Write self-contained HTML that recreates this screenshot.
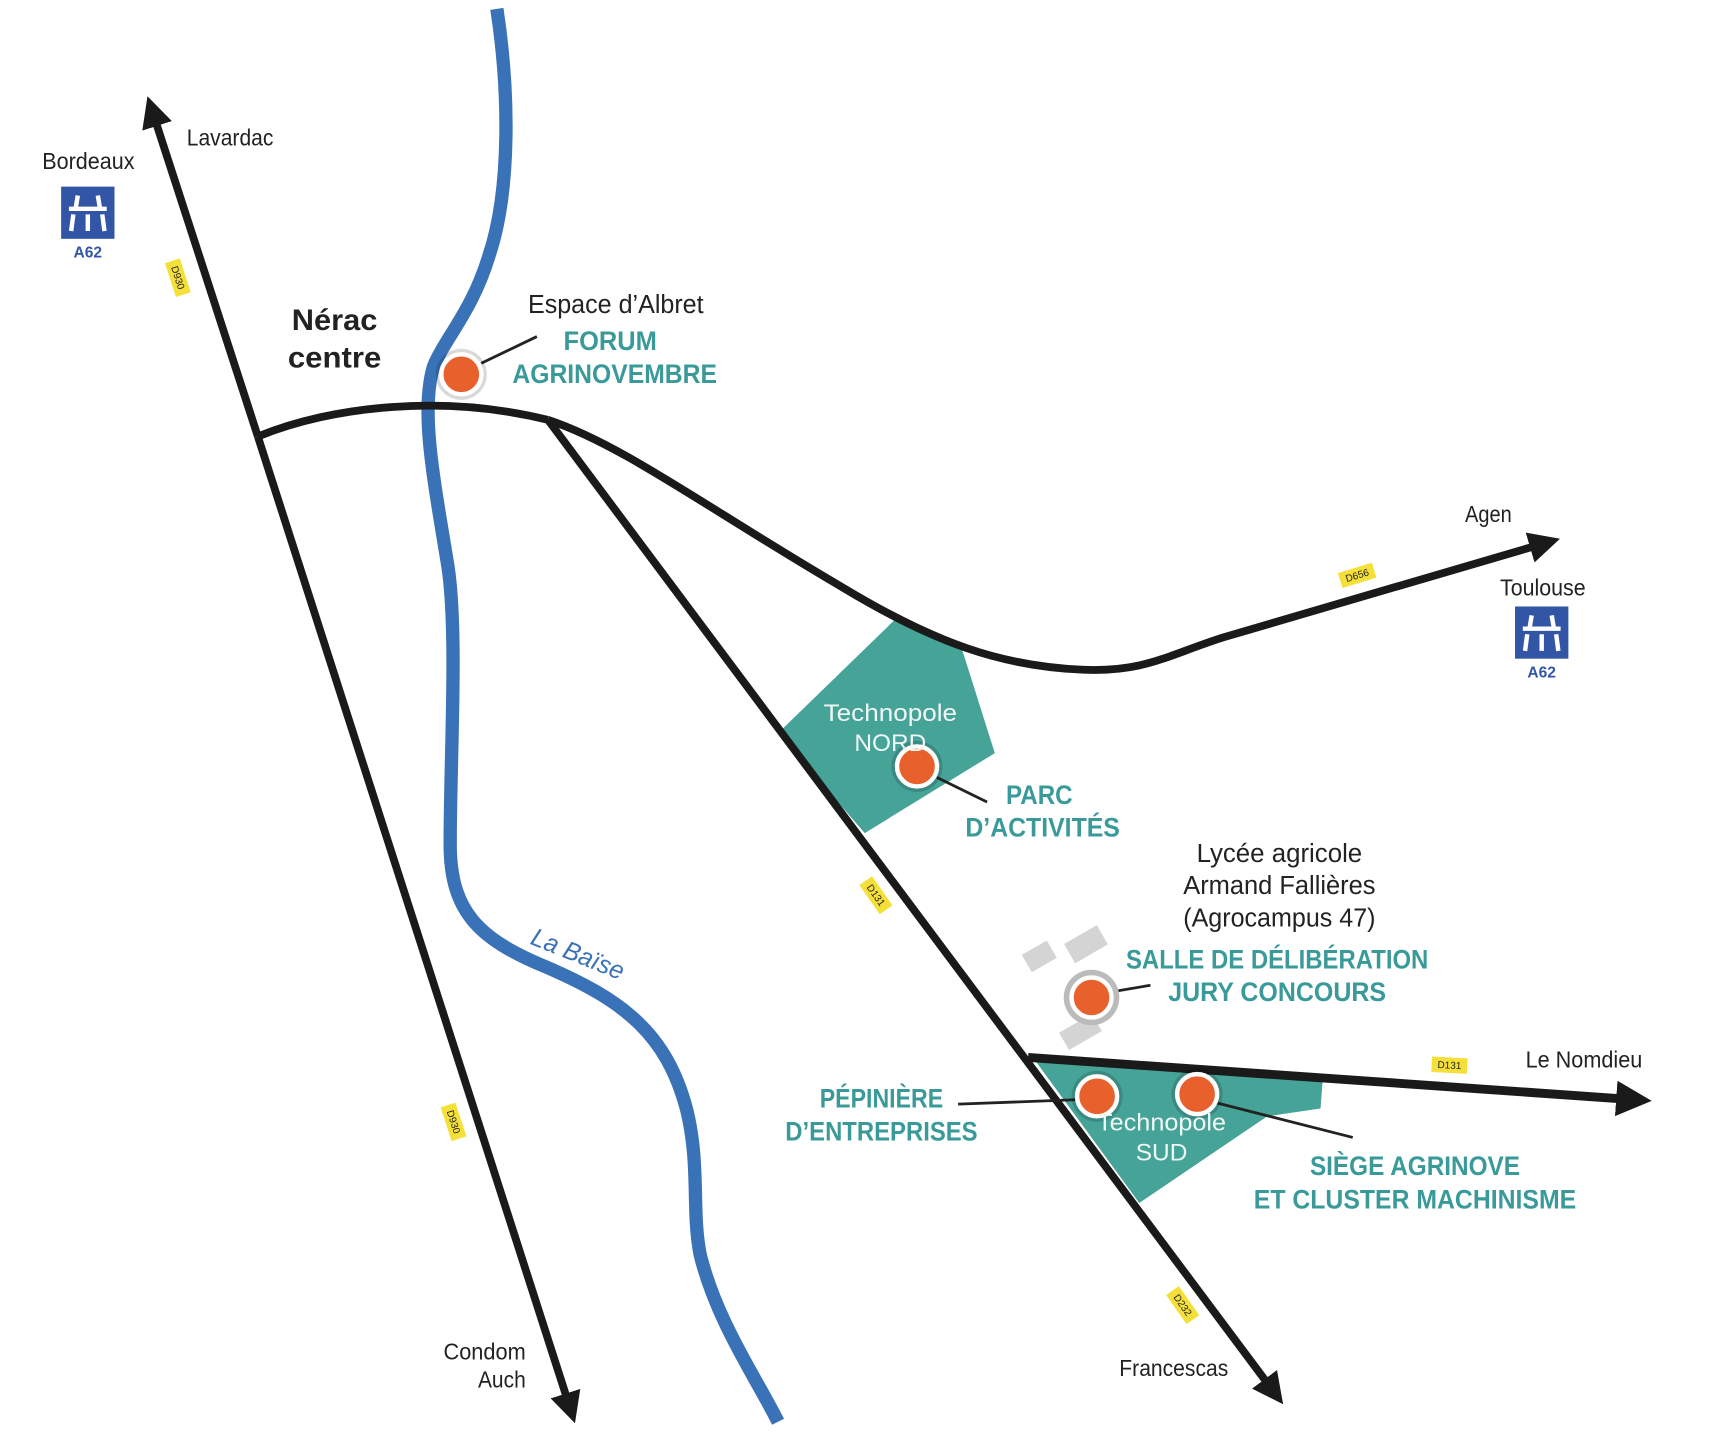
<!DOCTYPE html>
<html><head><meta charset="utf-8"><style>
html,body{margin:0;padding:0;background:#fff;}
svg{display:block}
text{font-family:"Liberation Sans",sans-serif;}
.k{fill:#222;font-size:21px}
.t{fill:#3a9a9a;font-size:24px;font-weight:bold}
.y{fill:#222;font-size:9px}
</style></head><body>
<svg width="1734" height="1444" viewBox="0 0 1560 1300" preserveAspectRatio="none" xmlns="http://www.w3.org/2000/svg">
<defs>
<marker id="ar" markerWidth="4" markerHeight="4" refX="2" refY="2" orient="auto" markerUnits="strokeWidth">
<path d="M0,0 L4,2 L0,4 z" fill="#1a1a1a"/></marker>
</defs>
<polygon points="700,660 805,558 865,583 895,678 778,750" fill="#46a398"/>
<polygon points="930,953 1190,972 1188,998 1140,1005 1025,1083" fill="#46a398"/>
<g fill="#d4d4d4">
<rect x="922" y="852" width="26" height="18" transform="rotate(-30 935 861)"/>
<rect x="960" y="840" width="34" height="20" transform="rotate(-30 977 850)"/>
<rect x="955" y="920" width="34" height="18" transform="rotate(-30 972 929)"/>
</g>
<path d="M447,8 C458,80 460,170 440,230 C425,280 400,305 390,330 C378,370 390,430 403,510 C412,570 405,680 405,760 C405,820 430,845 490,870 C560,900 600,930 618,1000 C630,1050 622,1090 630,1130 C645,1190 680,1240 700,1280" fill="none" stroke="#3a72b8" stroke-width="12"/>
<g fill="none" stroke="#1a1a1a" stroke-width="7">
<line x1="232" y1="393" x2="137" y2="100" marker-end="url(#ar)"/>
<line x1="232" y1="393" x2="513" y2="1268" marker-end="url(#ar)"/>
<path d="M232,393 C300,365 400,355 493,378"/>
<path d="M493,378 C560,400 640,460 760,530 C840,578 900,600 975,603 C1030,605 1050,590 1100,574 L1390,489" marker-end="url(#ar)"/>
<line x1="493" y1="378" x2="1146" y2="1253" marker-end="url(#ar)"/>
<path d="M925,952 L1470,990" stroke-width="8" marker-end="url(#ar)"/>
</g>
<g stroke="#222" stroke-width="2.5">
<line x1="433" y1="327" x2="483" y2="303"/>
<line x1="843" y1="700" x2="888" y2="722"/>
<line x1="1000" y1="893" x2="1035" y2="887"/>
<line x1="970" y1="990" x2="862" y2="994"/>
<line x1="1095" y1="993" x2="1217" y2="1024"/>
</g>
<g>
<circle cx="415" cy="337" r="23" fill="#000" opacity=".15"/>
<circle cx="825" cy="690" r="23" fill="#000" opacity=".15"/>
<circle cx="982" cy="898" r="25" fill="#bbb"/>
<circle cx="987" cy="987" r="23" fill="#000" opacity=".15"/>
<circle cx="1077" cy="985" r="23" fill="#000" opacity=".15"/>
</g>
<g fill="#e8602c" stroke="#fff" stroke-width="4">
<circle cx="415" cy="337" r="18"/>
<circle cx="825" cy="690" r="18"/>
<circle cx="982" cy="898" r="18"/>
<circle cx="987" cy="987" r="18"/>
<circle cx="1077" cy="985" r="18"/>
</g>
<g>
<rect x="55" y="168" width="48" height="47" fill="#3355a5"/>
<path d="M62,188 H96 M66,193 L64,208 M79,193 V208 M92,193 L94,208 M70,176 L68,188 M88,176 L90,188" stroke="#fff" stroke-width="4" fill="none"/>
<text x="79" y="232" text-anchor="middle" style="font-size:14px;font-weight:bold;fill:#3355a5">A62</text>
<rect x="1363" y="546" width="48" height="47" fill="#3355a5"/>
<path d="M1370,566 H1404 M1374,571 L1372,586 M1387,571 V586 M1400,571 L1402,586 M1378,554 L1376,566 M1396,554 L1398,566" stroke="#fff" stroke-width="4" fill="none"/>
<text x="1387" y="610" text-anchor="middle" style="font-size:14px;font-weight:bold;fill:#3355a5">A62</text>
</g>
<g>
<g transform="translate(160,250) rotate(72)"><rect x="-16" y="-7" width="32" height="14" fill="#f5e03a"/><text class="y" x="0" y="3" text-anchor="middle">D930</text></g>
<g transform="translate(408,1010) rotate(72)"><rect x="-16" y="-7" width="32" height="14" fill="#f5e03a"/><text class="y" x="0" y="3" text-anchor="middle">D930</text></g>
<g transform="translate(788,806) rotate(55)"><rect x="-16" y="-7" width="32" height="14" fill="#f5e03a"/><text class="y" x="0" y="3" text-anchor="middle">D131</text></g>
<g transform="translate(1064,1175) rotate(55)"><rect x="-16" y="-7" width="32" height="14" fill="#f5e03a"/><text class="y" x="0" y="3" text-anchor="middle">D232</text></g>
<g transform="translate(1221,518) rotate(-17)"><rect x="-16" y="-7" width="32" height="14" fill="#f5e03a"/><text class="y" x="0" y="3" text-anchor="middle">D656</text></g>
<g transform="translate(1304,959) rotate(3)"><rect x="-16" y="-7" width="32" height="14" fill="#f5e03a"/><text class="y" x="0" y="3" text-anchor="middle">D131</text></g>
</g>
<g lengthAdjust="spacingAndGlyphs">
<text class="k" x="38" y="152" textLength="83" lengthAdjust="spacingAndGlyphs">Bordeaux</text>
<text class="k" x="168" y="131" textLength="78" lengthAdjust="spacingAndGlyphs">Lavardac</text>
<text x="301" y="297" text-anchor="middle" textLength="77" lengthAdjust="spacingAndGlyphs" style="font-size:27px;font-weight:bold;fill:#222">Nérac</text>
<text x="301" y="331" text-anchor="middle" textLength="84" lengthAdjust="spacingAndGlyphs" style="font-size:27px;font-weight:bold;fill:#222">centre</text>
<text class="k" x="554" y="282" text-anchor="middle" textLength="158" lengthAdjust="spacingAndGlyphs" style="font-size:23px">Espace d’Albret</text>
<text class="t" x="549" y="315" text-anchor="middle" textLength="84" lengthAdjust="spacingAndGlyphs">FORUM</text>
<text class="t" x="553" y="345" text-anchor="middle" textLength="184" lengthAdjust="spacingAndGlyphs">AGRINOVEMBRE</text>
<text class="k" x="1339" y="470" text-anchor="middle" textLength="42" lengthAdjust="spacingAndGlyphs">Agen</text>
<text class="k" x="1388" y="536" text-anchor="middle" textLength="77" lengthAdjust="spacingAndGlyphs">Toulouse</text>
<text x="801" y="649" text-anchor="middle" textLength="120" lengthAdjust="spacingAndGlyphs" style="font-size:22px;fill:#f0f8f6">Technopole</text>
<text x="801" y="676" text-anchor="middle" style="font-size:22px;fill:#f0f8f6">NORD</text>
<text class="t" x="935" y="724" text-anchor="middle" textLength="60" lengthAdjust="spacingAndGlyphs">PARC</text>
<text class="t" x="938" y="753" text-anchor="middle" textLength="139" lengthAdjust="spacingAndGlyphs">D’ACTIVITÉS</text>
<text class="k" x="1151" y="776" text-anchor="middle" textLength="149" lengthAdjust="spacingAndGlyphs" style="font-size:23px">Lycée agricole</text>
<text class="k" x="1151" y="805" text-anchor="middle" textLength="173" lengthAdjust="spacingAndGlyphs" style="font-size:23px">Armand Fallières</text>
<text class="k" x="1151" y="834" text-anchor="middle" textLength="173" lengthAdjust="spacingAndGlyphs" style="font-size:23px">(Agrocampus 47)</text>
<text class="t" x="1149" y="872" text-anchor="middle" textLength="272" lengthAdjust="spacingAndGlyphs">SALLE DE DÉLIBÉRATION</text>
<text class="t" x="1149" y="901" text-anchor="middle" textLength="196" lengthAdjust="spacingAndGlyphs">JURY CONCOURS</text>
<text class="k" x="1425" y="961" text-anchor="middle" textLength="105" lengthAdjust="spacingAndGlyphs">Le Nomdieu</text>
<text class="t" x="793" y="997" text-anchor="middle" textLength="111" lengthAdjust="spacingAndGlyphs">PÉPINIÈRE</text>
<text class="t" x="793" y="1027" text-anchor="middle" textLength="173" lengthAdjust="spacingAndGlyphs">D’ENTREPRISES</text>
<text x="1045" y="1018" text-anchor="middle" textLength="116" lengthAdjust="spacingAndGlyphs" style="font-size:22px;fill:#f0f8f6">Technopole</text>
<text x="1045" y="1045" text-anchor="middle" style="font-size:22px;fill:#f0f8f6">SUD</text>
<text class="t" x="1273" y="1058" text-anchor="middle" textLength="189" lengthAdjust="spacingAndGlyphs">SIÈGE AGRINOVE</text>
<text class="t" x="1273" y="1088" text-anchor="middle" textLength="290" lengthAdjust="spacingAndGlyphs">ET CLUSTER MACHINISME</text>
<text class="k" x="473" y="1224" text-anchor="end" textLength="74" lengthAdjust="spacingAndGlyphs">Condom</text>
<text class="k" x="473" y="1249" text-anchor="end" textLength="43" lengthAdjust="spacingAndGlyphs">Auch</text>
<text class="k" x="1056" y="1239" text-anchor="middle" textLength="98" lengthAdjust="spacingAndGlyphs">Francescas</text>
<text x="517" y="866" transform="rotate(22 517 866)" text-anchor="middle" textLength="88" lengthAdjust="spacingAndGlyphs" style="font-size:23px;font-style:italic;fill:#3a72b8">La Baïse</text>
</g>
</svg>
</body></html>
